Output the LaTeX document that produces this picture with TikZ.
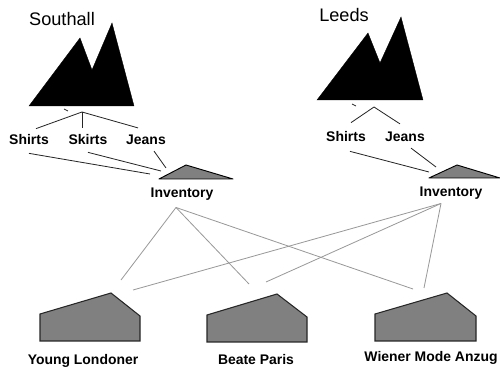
\documentclass[tikz,border=0pt]{standalone}
\usepackage{fontspec}
\setmainfont{Liberation Sans}
\tikzset{
	mountain/.style={fill=black, draw=black, line width=0.3pt},
	shelf/.style={fill=black!50, draw=black, line width=0.8pt, line join=round},
	shed/.style={fill=black!50, draw=black!85, line width=0.9pt},
	sitename/.style={inner sep=0pt, font=\fontsize{15.5}{18}\selectfont},
	itemname/.style={inner sep=0pt, font=\fontsize{11.9}{14}\selectfont\bfseries},
	wire/.style={draw=black!85, line width=0.7pt},
	feed/.style={draw=black!40, line width=0.7pt}
}
\begin{document}
\begin{tikzpicture}[x=0.03cm, y=-0.03cm]
	\useasboundingbox (0,0) rectangle (500,371);
	% sites
	\draw[mountain] (29,106) -- (80,38) -- (92,70) -- (112,23) -- (134,106) -- cycle;
	\draw[mountain] (317,100) -- (368,33) -- (380,63) -- (401,17) -- (423,100) -- cycle;
	\node[sitename] (southall) at (62,19) {Southall};
	\node[sitename] (leeds) at (344,15) {Leeds};
	% inventories
	\draw[shelf] (159,179) -- (186,165) -- (233,179) -- cycle;
	\draw[shelf] (429,178) -- (457,165) -- (500,178) -- cycle;
	\node[itemname] (inventoryS) at (182,194) {Inventory};
	\node[itemname] (inventoryL) at (451,193) {Inventory};
	% warehouses
	\draw[shed] (40,341) -- (40,314) -- (111,293) -- (140,316) -- (140,341) -- cycle;
	\draw[shed] (207,342) -- (207,315) -- (277,294) -- (307,317) -- (307,342) -- cycle;
	\draw[shed] (375,341) -- (375,314) -- (447,293) -- (476,316) -- (476,341) -- cycle;
	\node[itemname] (young) at (83,361) {Young Londoner};
	\node[itemname] (beate) at (256,360) {Beate Paris};
	\node[itemname] (wiener) at (431,358) {Wiener Mode Anzug};
	% products
	\node[itemname] (shirtsS) at (29,140) {Shirts};
	\node[itemname] (skirtsS) at (88,140) {Skirts};
	\node[itemname] (jeansS) at (146,140) {Jeans};
	\node[itemname] (shirtsL) at (346,137) {Shirts};
	\node[itemname] (jeansL) at (405,137) {Jeans};
	% free ends
	\coordinate (hubS) at (82,112);
	\coordinate (hubL) at (374,107);
	\coordinate (tickS) at (64,109);
	\coordinate (tickSb) at (68,111);
	\coordinate (tickL) at (352,104);
	\coordinate (tickLb) at (356,106);
	\coordinate (stockSa) at (150,174);
	\coordinate (stockSb) at (161,171);
	\coordinate (stockSc) at (166,168);
	\coordinate (stockLa) at (429,172);
	\coordinate (stockLb) at (436,167);
	\coordinate (youngA) at (121,280);
	\coordinate (youngB) at (133,290);
	\coordinate (beateA) at (249,284);
	\coordinate (beateB) at (266,282);
	\coordinate (wienerA) at (413,289);
	\coordinate (wienerB) at (424,288);
	% site to product
	\draw[wire] (tickS) -- (tickSb);
	\draw[wire] (tickL) -- (tickLb);
	\draw[wire] ([shift={(7,-6)}]shirtsS.north) -- (hubS);
	\draw[wire] (hubS) -- ([shift={(-6,-7)}]skirtsS.north);
	\draw[wire] (hubS) -- ([shift={(-8,-7)}]jeansS.north);
	\draw[wire] ([shift={(5,-9)}]shirtsL.north) -- (hubL);
	\draw[wire] (hubL) -- ([shift={(-5,-8)}]jeansL.north);
	% product to inventory
	\draw[wire] ([yshift=-0.24cm]shirtsS.south) -- (stockSa);
	\draw[wire] ([yshift=-0.21cm]skirtsS.south) -- (stockSb);
	\draw[wire] ([shift={(8,6)}]jeansS.south) -- (stockSc);
	\draw[wire] ([shift={(4,9)}]shirtsL.south) -- (stockLa);
	\draw[wire] ([shift={(6,6)}]jeansL.south) -- (stockLb);
	% inventory to warehouse
	\draw[feed] ([shift={(-6,7)}]inventoryS.south) -- (youngA);
	\draw[feed] ([shift={(-6,7)}]inventoryS.south) -- (beateA);
	\draw[feed] ([shift={(-6,7)}]inventoryS.south) -- (wienerA);
	\draw[feed] ([shift={(-10,4)}]inventoryL.south) -- (youngB);
	\draw[feed] ([shift={(-10,4)}]inventoryL.south) -- (beateB);
	\draw[feed] ([shift={(-10,4)}]inventoryL.south) -- (wienerB);
\end{tikzpicture}
\end{document}
